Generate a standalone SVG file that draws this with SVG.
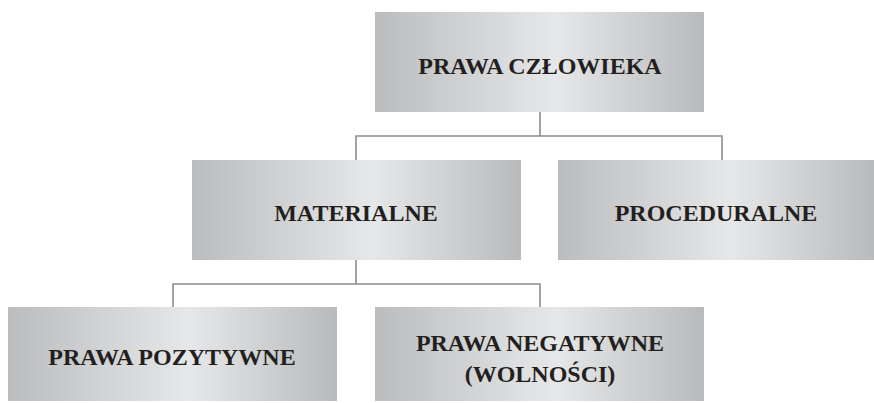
<svg xmlns="http://www.w3.org/2000/svg" width="874" height="403" viewBox="0 0 874 403">
<defs>
<linearGradient id="g" x1="0" y1="0" x2="1" y2="0">
<stop offset="0" stop-color="#bbbcbe"/>
<stop offset="0.55" stop-color="#e6e7e8"/>
<stop offset="1" stop-color="#b9babc"/>
</linearGradient>
</defs>
<style>
.box{fill:url(#g);}
.t{font-family:"Liberation Serif","Times New Roman",serif;font-weight:bold;font-size:24px;fill:#231f20;text-anchor:middle;}
.c{fill:none;stroke:#8c8c8e;stroke-width:1.6;}
</style>
<rect width="874" height="403" fill="#ffffff"/>
<g id="connectors">
<path class="c" d="M540 112 V136 M356 160 V136 H722 V160"/>
<path class="c" d="M356 260 V284 M173 307 V284 H540 V307"/>
</g>
<g id="prawa-czlowieka">
<rect class="box" x="375" y="12" width="329" height="100"/>
<text class="t" x="540" y="74">PRAWA CZŁOWIEKA</text>
</g>
<g id="materialne">
<rect class="box" x="192" y="160" width="329" height="100"/>
<text class="t" x="356" y="221">MATERIALNE</text>
</g>
<g id="proceduralne">
<rect class="box" x="558" y="160" width="316" height="100"/>
<text class="t" x="716" y="221">PROCEDURALNE</text>
</g>
<g id="prawa-pozytywne">
<rect class="box" x="8" y="307" width="329" height="94"/>
<text class="t" x="172" y="365">PRAWA POZYTYWNE</text>
</g>
<g id="prawa-negatywne">
<rect class="box" x="375" y="307" width="329" height="94"/>
<text class="t" x="540" y="351">PRAWA NEGATYWNE</text>
<text class="t" x="540" y="382">(WOLNOŚCI)</text>
</g>
</svg>
